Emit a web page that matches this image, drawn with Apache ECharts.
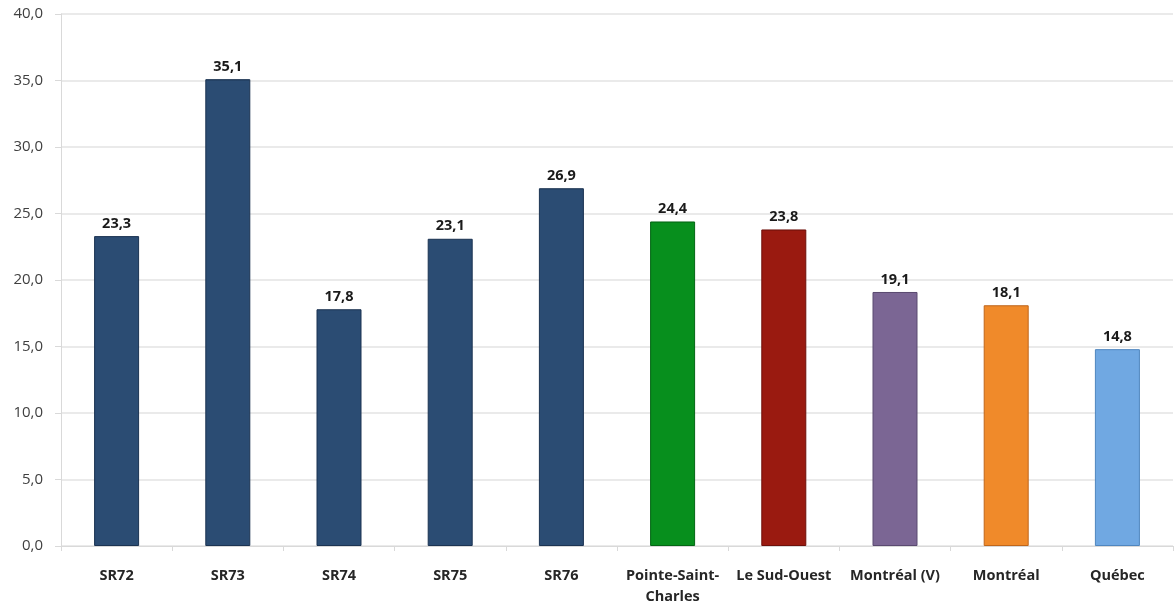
<!DOCTYPE html>
<html>
<head>
<meta charset="utf-8">
<script src="https://cdn.jsdelivr.net/npm/echarts@6/dist/echarts.min.js"></script>
<style>
html,body{margin:0;padding:0;background:#fff;}
#chart{width:1174px;height:609px;}
</style>
</head>
<body>
<div id="chart"></div>
<script>
const categories = ["SR72","SR73","SR74","SR75","SR76","Pointe-Saint-Charles","Le Sud-Ouest","Montréal (V)","Montréal","Québec"];
const values = [23.3,35.1,17.8,23.1,26.9,24.4,23.8,19.1,18.1,14.8];
const barColors = ["#2b4c73","#2b4c73","#2b4c73","#2b4c73","#2b4c73","#078f1d","#9a1a10","#7b6694","#f08a2a","#70a8e2"];
const borderColors = ["#1b3352","#1b3352","#1b3352","#1b3352","#1b3352","#036614","#6e100a","#5a4a70","#c0661a","#4f86bf"];
const yTicks = [0,5,10,15,20,25,30,35,40];

const fmt = v => v.toFixed(1).replace('.', ',');
const chart = echarts.init(document.getElementById('chart'));
chart.setOption({
  animation:false,
  grid:{left:61,right:1,top:14,bottom:63,containLabel:false},
  xAxis:{
    type:'category',
    data:categories,
    axisLine:{lineStyle:{color:'#d9d9d9',width:1}},
    axisTick:{show:true,length:5,lineStyle:{color:'#d9d9d9'}},
    axisLabel:{
      interval:0,
      margin:19,
      fontFamily:'"Open Sans", sans-serif',
      fontWeight:'bold',
      fontSize:14.5,
      color:'#262626',
      lineHeight:21,
      formatter:v => v === "Pointe-Saint-Charles" ? "Pointe-Saint-\nCharles" : v
    }
  },
  yAxis:{
    type:'value',
    min:yTicks[0], max:yTicks[yTicks.length-1], interval:5,
    axisLine:{show:true,lineStyle:{color:'#d9d9d9'}},
    axisTick:{show:true,length:6,lineStyle:{color:'#d9d9d9'}},
    splitLine:{lineStyle:{color:'#e3e3e3',width:1.5}},
    axisLabel:{
      margin:18,
      fontFamily:'"Open Sans", sans-serif',
      fontSize:15,
      color:'#404040',
      formatter:v => fmt(v)
    }
  },
  series:[{
    type:'bar',
    barWidth:45,
    data:values.map((v,i)=>({
      value:v,
      itemStyle:{
        color:{type:'linear',x:0,y:0,x2:0,y2:1,colorStops:[
          {offset:0,color:borderColors[i]},
          {offset:0.004,color:barColors[i]},
          {offset:1,color:barColors[i]}
        ]},
        borderColor:borderColors[i],
        borderWidth:1
      }
    })),
    label:{
      show:true,
      position:'top',
      distance:5,
      fontFamily:'"Open Sans", sans-serif',
      fontWeight:'bold',
      fontSize:14.5,
      color:'#1a1a1a',
      formatter:p => fmt(p.value)
    }
  }]
});
</script>
</body>
</html>
